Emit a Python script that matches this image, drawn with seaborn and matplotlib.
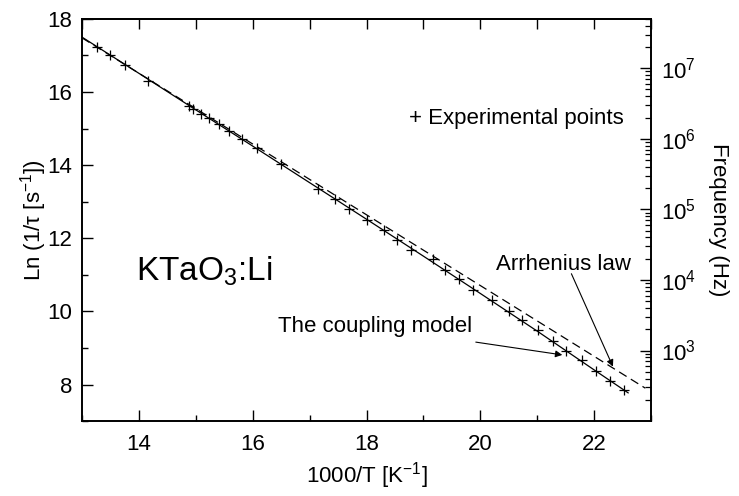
import matplotlib
matplotlib.use("Agg")
import matplotlib.pyplot as plt
import seaborn as sns
import numpy as np
from matplotlib.ticker import FixedLocator, LogLocator, NullFormatter, LogFormatterSciNotation

# ---------------- data ----------------
exp_x = [13.27, 13.50, 13.75, 14.16, 14.88, 14.95, 15.09, 15.23, 15.40, 15.58,
         15.81, 16.07, 16.50, 17.15, 17.44, 17.70, 18.01, 18.30, 18.53, 18.78,
         19.16, 19.37, 19.63, 19.87, 20.21, 20.51, 20.73, 21.01, 21.27, 21.51,
         21.78, 22.03, 22.28, 22.53]
exp_y = [17.22, 17.01, 16.73, 16.31, 15.62, 15.53, 15.40, 15.28, 15.12, 14.94,
         14.71, 14.46, 14.03, 13.36, 13.07, 12.80, 12.51, 12.23, 11.96, 11.69,
         11.42, 11.14, 10.89, 10.59, 10.30, 10.02, 9.77, 9.48, 9.20, 8.93,
         8.66, 8.38, 8.11, 7.84]

coupling_x = [13.0, 14.0, 15.0, 16.0, 17.0, 18.0, 19.0, 20.0, 21.0, 22.0, 22.6]
coupling_y = [17.50, 16.51, 15.51, 14.52, 13.52, 12.52, 11.51, 10.49, 9.46, 8.40, 7.77]

arrhenius_x = [13.0, 22.9]
arrhenius_y = [17.48, 7.90]

x_major = [14, 16, 18, 20, 22]
x_minor = [13, 15, 17, 19, 21, 23]
y_major = [8, 10, 12, 14, 16, 18]
y_minor = [7, 9, 11, 13, 15, 17]
freq_major = [1e3, 1e4, 1e5, 1e6, 1e7]

# ---------------- style ----------------
sns.set_theme(style="ticks")
plt.rcParams['font.family'] = ['Liberation Sans', 'DejaVu Sans']
plt.rcParams['mathtext.fontset'] = 'custom'
plt.rcParams['mathtext.rm'] = 'Liberation Sans'
plt.rcParams['mathtext.it'] = 'Liberation Sans:italic'
plt.rcParams['mathtext.bf'] = 'Liberation Sans:bold'
plt.rcParams['axes.linewidth'] = 1.2
for key in ['text.color', 'axes.labelcolor', 'xtick.color', 'ytick.color', 'axes.edgecolor']:
    plt.rcParams[key] = 'black'

FS = 16

fig = plt.figure(figsize=(7.39, 4.96), dpi=100)
ax = fig.add_axes([0.111, 0.151, 0.881 - 0.111, 0.962 - 0.151])

sns.lineplot(x=coupling_x, y=coupling_y, ax=ax, color='black', lw=0.9)
arr_line = sns.lineplot(x=arrhenius_x, y=arrhenius_y, ax=ax, color='black', lw=0.9).lines[-1]
arr_line.set_dashes((7, 4))
sns.scatterplot(x=exp_x, y=exp_y, ax=ax, marker='+', s=60, color='black',
                linewidth=0.9, zorder=5)

ax.set_xlim(13, 23)
ax.set_ylim(7, 18)
ax.xaxis.set_major_locator(FixedLocator(x_major))
ax.xaxis.set_minor_locator(FixedLocator(x_minor))
ax.yaxis.set_major_locator(FixedLocator(y_major))
ax.yaxis.set_minor_locator(FixedLocator(y_minor))
ax.tick_params(which='major', direction='in', length=8, width=1.0,
               labelsize=FS, pad=7, colors='black', right=False, top=False)
ax.tick_params(which='minor', direction='in', length=4.5, width=1.0,
               right=False, top=False)
ax.tick_params(axis='x', which='major', pad=9)

for s in ax.spines.values():
    s.set_visible(True)
    s.set_color('black')
    s.set_linewidth(1.2)

# top ticks at every integer
secx = ax.secondary_xaxis('top')
secx.set_xticks(list(range(13, 24)))
secx.tick_params(direction='in', length=7, width=1.0, labeltop=False, colors='black')
secx.set_xticklabels([])

ax.set_xlabel('1000/T [K$^{\\mathdefault{-1}}$]', fontsize=FS, labelpad=4)
ax.set_ylabel('Ln (1/τ [s$^{\\mathdefault{-1}}$])', fontsize=FS, labelpad=-1)

# right frequency axis
ax2 = ax.twinx()
ax2.set_yscale('log')
ax2.set_ylim(1e2, 10 ** 7.7)
ax2.yaxis.set_major_locator(FixedLocator(freq_major))
ax2.yaxis.set_major_formatter(LogFormatterSciNotation())
ax2.yaxis.set_minor_locator(LogLocator(base=10, subs=np.arange(2, 10)))
ax2.yaxis.set_minor_formatter(NullFormatter())
ax2.tick_params(which='major', direction='in', length=8, width=1.0,
                labelsize=FS, pad=7, colors='black')
ax2.tick_params(which='minor', direction='in', length=4.5, width=0.9, colors='black')
for s in ax2.spines.values():
    s.set_color('black')
    s.set_linewidth(1.2)
ax2.set_ylabel('Frequency (Hz)', fontsize=FS, rotation=270, va='bottom', labelpad=9)

# annotations
ax.text(13.95, 11.11, 'KTaO$_{\\mathdefault{3}}$:Li', fontsize=24, ha='left', va='center')
ax.text(18.75, 15.27, '+ Experimental points', fontsize=FS, ha='left', va='center')
ax.text(20.28, 11.28, 'Arrhenius law', fontsize=FS, ha='left', va='center')
ax.text(16.45, 9.58, 'The coupling model', fontsize=FS, ha='left', va='center')

arrow_kw = dict(arrowstyle='-|>', color='black', lw=0.8, mutation_scale=10,
                shrinkA=0, shrinkB=0)
ax.annotate('', xy=(22.33, 8.49), xytext=(21.60, 11.03), arrowprops=arrow_kw)
ax.annotate('', xy=(21.44, 8.81), xytext=(19.92, 9.16), arrowprops=arrow_kw)

fig.savefig('out.png', dpi=100, facecolor='white')
